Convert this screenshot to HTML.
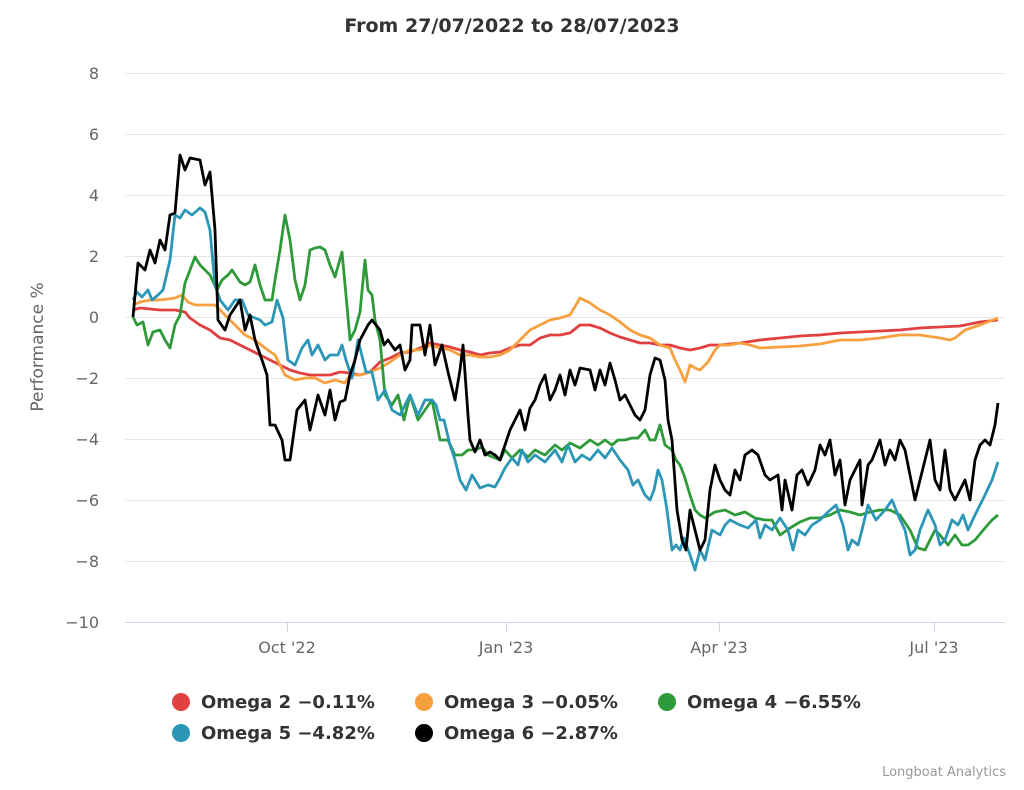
<!DOCTYPE html>
<html><head><meta charset="utf-8"><style>
body{margin:0;background:#fff;}
svg text{font-family:"DejaVu Sans","Liberation Sans",sans-serif;}
</style></head><body>
<svg width="1024" height="785" xmlns="http://www.w3.org/2000/svg">
<rect width="1024" height="785" fill="#fff"/>
<text x="512" y="32" text-anchor="middle" font-size="19" font-weight="bold" fill="#333">From 27/07/2022 to 28/07/2023</text>
<g stroke="#e6e6e6" stroke-width="1">
<line x1="125" x2="1005" y1="73.5" y2="73.5"/><line x1="125" x2="1005" y1="134.5" y2="134.5"/>
<line x1="125" x2="1005" y1="195.5" y2="195.5"/><line x1="125" x2="1005" y1="256.5" y2="256.5"/>
<line x1="125" x2="1005" y1="317.5" y2="317.5"/><line x1="125" x2="1005" y1="378.5" y2="378.5"/>
<line x1="125" x2="1005" y1="439.5" y2="439.5"/><line x1="125" x2="1005" y1="500.5" y2="500.5"/>
<line x1="125" x2="1005" y1="561.5" y2="561.5"/>
</g>
<line x1="125" x2="1005" y1="622.5" y2="622.5" stroke="#ccd6eb"/>
<g stroke="#ccd6eb"><line x1="287.5" x2="287.5" y1="622" y2="632"/><line x1="506.5" x2="506.5" y1="622" y2="632"/><line x1="719.5" x2="719.5" y1="622" y2="632"/><line x1="934.5" x2="934.5" y1="622" y2="632"/></g>
<g font-size="16" fill="#666" text-anchor="end">
<text x="99" y="79">8</text><text x="99" y="140">6</text><text x="99" y="201">4</text><text x="99" y="262">2</text><text x="99" y="323">0</text><text x="99" y="384">−2</text><text x="99" y="445">−4</text><text x="99" y="506">−6</text><text x="99" y="567">−8</text><text x="99" y="628">−10</text>
</g>
<text transform="translate(43,347) rotate(-90)" text-anchor="middle" font-size="17" fill="#666">Performance %</text>
<g font-size="16" fill="#666" text-anchor="middle">
<text x="287" y="653">Oct '22</text><text x="506" y="653">Jan '23</text><text x="719" y="653">Apr '23</text><text x="934" y="653">Jul '23</text>
</g>
<g fill="none" stroke-width="2.8" stroke-linejoin="round">
<polyline stroke="#e0403f" points="133,310 140,308 150,309 160,310 175,310 185,312 190,318 200,325 210,330 220,338 230,340 240,345 250,350 260,355 270,360 280,365 290,370 300,373 310,375 320,375 330,375 340,372 350,373 360,375 370,372 380,362 390,358 400,353 410,352 420,348 430,343 440,345 450,347 460,350 470,352 480,355 490,353 500,352 510,348 520,345 530,345 540,338 550,335 560,335 570,333 580,325 590,325 600,328 610,333 620,337 630,340 640,343 650,343 660,345 670,345 680,348 690,350 700,348 710,345 720,345 740,343 760,340 780,338 800,336 820,335 840,333 860,332 880,331 900,330 920,328 940,327 960,326 980,322 998,320"/>
<polyline stroke="#f7a040" points="133,305 140,302 150,300 160,300 175,298 182,295 188,302 195,305 205,305 215,305 225,315 235,325 245,335 255,340 265,348 275,355 285,375 295,380 305,378 315,378 325,383 335,380 345,383 350,375 360,375 370,372 380,368 390,362 400,355 410,350 420,350 430,345 440,348 450,350 460,355 470,355 480,357 490,357 500,355 510,350 520,340 530,330 540,325 550,320 560,318 570,315 580,298 590,303 600,310 610,315 620,322 630,330 640,335 650,338 660,345 670,348 675,360 680,370 685,382 690,365 695,368 700,370 708,362 715,350 720,345 730,345 740,343 750,345 760,348 780,347 800,346 820,344 840,340 860,340 880,338 900,335 920,335 940,338 950,340 955,338 965,330 980,325 998,318"/>
<polyline stroke="#2e9a3a" points="133,317 137,325 143,322 148,345 153,332 160,330 165,340 170,348 175,325 180,315 185,283 190,270 195,257 200,265 205,270 210,275 217,290 222,280 228,275 232,270 240,282 245,285 250,282 255,265 260,285 265,300 272,300 275,280 280,250 285,215 290,240 295,280 300,300 305,285 310,250 315,248 320,247 325,250 330,265 335,277 342,252 346,295 350,340 355,330 360,312 365,260 368,290 372,295 375,320 380,340 385,395 392,405 398,395 404,420 410,395 418,420 425,410 432,400 436,420 440,440 448,440 455,455 462,455 468,450 475,450 482,447 488,455 495,458 500,460 505,450 512,458 520,450 528,457 535,450 545,455 555,445 562,450 570,443 580,448 590,440 598,445 605,440 612,445 618,440 625,440 632,438 638,438 645,430 650,440 655,440 660,425 665,445 672,450 676,460 680,465 684,475 690,495 695,510 700,515 705,518 715,512 725,510 735,515 745,512 755,518 765,520 772,520 780,535 790,528 800,522 810,518 820,518 830,515 840,510 850,512 860,515 870,512 880,510 890,510 900,515 910,530 918,548 925,550 930,540 935,530 940,535 948,545 955,535 962,545 968,545 975,540 985,528 992,520 998,515"/>
<polyline stroke="#2b96b5" points="133,300 137,292 142,297 148,290 152,300 158,295 163,290 170,260 175,215 180,218 185,210 192,215 200,208 205,212 210,230 215,285 220,300 228,310 235,300 242,300 248,315 255,318 260,320 265,325 272,322 277,300 283,318 288,360 295,365 302,348 308,340 312,355 318,345 325,360 330,355 338,355 342,345 346,360 352,378 358,340 362,356 366,372 372,372 378,400 385,390 392,410 400,415 410,395 418,415 425,400 432,400 436,405 440,420 444,420 450,445 455,460 460,480 466,490 472,475 480,488 488,485 495,487 500,478 505,468 512,458 518,465 522,450 528,462 535,455 545,462 555,450 562,462 568,445 575,462 582,455 590,460 598,450 605,458 612,448 620,460 628,470 633,485 638,480 645,495 650,500 654,490 658,470 662,480 667,510 672,550 676,545 680,550 684,538 690,555 695,570 700,550 705,560 712,530 720,535 725,525 730,520 740,525 748,528 756,520 760,538 765,525 772,530 780,518 788,530 793,550 798,530 805,535 812,525 820,520 828,512 836,505 843,525 848,550 852,540 858,545 862,530 868,505 876,520 885,510 892,500 898,515 905,530 910,555 915,550 920,530 928,510 935,525 940,545 945,540 952,520 958,525 963,515 968,530 975,515 985,495 992,480 998,462"/>
<polyline stroke="#000" points="133,317 138,263 145,270 150,250 155,263 160,240 165,250 170,215 175,213 180,155 185,170 190,158 200,160 205,185 210,172 215,230 218,320 225,330 230,315 240,300 245,330 250,315 255,340 262,360 267,375 270,425 275,425 282,440 285,460 290,460 297,410 305,400 310,430 318,395 325,415 330,390 335,420 340,402 345,400 350,375 355,360 360,340 368,325 372,320 380,330 384,345 388,340 395,350 400,345 405,370 410,360 412,325 420,325 425,355 430,325 435,365 442,345 448,372 455,400 460,370 463,345 468,415 470,440 475,452 480,440 485,455 490,452 495,455 500,460 505,445 510,430 515,420 520,410 525,430 530,408 535,400 540,385 545,375 550,400 555,390 560,375 565,395 570,370 575,385 580,368 590,370 595,390 600,370 605,385 610,363 615,380 620,400 625,395 630,405 635,415 640,420 645,410 650,375 655,358 660,360 665,380 668,420 672,440 677,510 682,540 686,550 690,510 695,530 700,550 705,540 710,490 715,465 720,480 725,490 730,495 735,470 740,480 745,455 752,450 758,455 765,475 770,480 778,475 782,510 785,480 792,510 797,475 802,470 808,485 815,470 820,445 825,455 830,440 835,475 840,460 845,505 850,480 855,470 860,460 862,505 868,465 872,460 880,440 885,465 890,450 895,460 900,440 905,450 910,475 915,500 920,480 925,460 930,440 935,480 940,490 945,450 950,490 955,500 960,490 965,480 970,500 975,460 980,445 985,440 990,445 995,425 998,403"/>
</g>
<g font-size="18" font-weight="bold" fill="#333">
<circle cx="181" cy="702" r="9" fill="#e0403f"/><text x="201" y="708">Omega 2 −0.11%</text>
<circle cx="424" cy="702" r="9" fill="#f7a040"/><text x="444" y="708">Omega 3 −0.05%</text>
<circle cx="667" cy="702" r="9" fill="#2e9a3a"/><text x="687" y="708">Omega 4 −6.55%</text>
<circle cx="181" cy="733" r="9" fill="#2b96b5"/><text x="201" y="739">Omega 5 −4.82%</text>
<circle cx="424" cy="733" r="9" fill="#000"/><text x="444" y="739">Omega 6 −2.87%</text>
</g>
<text x="1006" y="776" text-anchor="end" font-size="13" fill="#999">Longboat Analytics</text>
</svg>
</body></html>
